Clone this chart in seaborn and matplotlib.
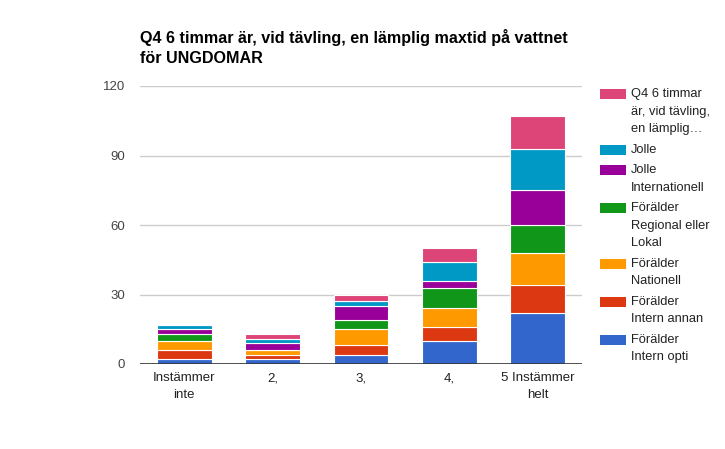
import matplotlib
matplotlib.use("Agg")
import matplotlib.pyplot as plt
import seaborn as sns
import pandas as pd
import numpy as np
from matplotlib.patches import Rectangle

# ---- data ----
categories = ["Instämmer\ninte", "2,", "3,", "4,", "5 Instämmer\nhelt"]
forälder_intern_opti = [2, 2, 4, 10, 22]
forälder_intern_annan = [4, 2, 4, 6, 12]
forälder_nationell = [4, 2, 7, 8, 14]
forälder_regional = [3, 0, 4, 9, 12]
jolle_internationell = [2, 3, 6, 3, 15]
jolle = [2, 2, 2, 8, 18]
q4_total = [0, 2, 3, 6, 14]

series_names = [
    "Förälder\nIntern opti",
    "Förälder\nIntern annan",
    "Förälder\nNationell",
    "Förälder\nRegional eller\nLokal",
    "Jolle\nInternationell",
    "Jolle",
    "Q4 6 timmar\när, vid tävling,\nen lämplig…",
]
series_values = [forälder_intern_opti, forälder_intern_annan, forälder_nationell,
                 forälder_regional, jolle_internationell, jolle, q4_total]
colors = ["#3366cc", "#dc3912", "#ff9900", "#109618", "#990099", "#0099c6", "#dd4477"]
yticks = [0, 30, 60, 90, 120]
title = "Q4 6 timmar är, vid tävling, en lämplig maxtid på vattnet\nför UNGDOMAR"

sns.set_theme(style="white")
plt.rcParams["font.family"] = ["Liberation Sans", "DejaVu Sans"]

W, H = 725, 449
fig = plt.figure(figsize=(W / 100, H / 100), dpi=100)
ax_l, ax_r, ax_t, ax_b = 140, 582, 86, 364
ax = fig.add_axes([ax_l / W, 1 - ax_b / H, (ax_r - ax_l) / W, (ax_b - ax_t) / H])

bottom = np.zeros(len(categories))
for name, vals, col in zip(series_names, series_values, colors):
    df = pd.DataFrame({"cat": categories, "val": vals})
    sns.barplot(data=df, x="cat", y="val", order=categories, color=col,
                width=0.62, bottom=bottom, edgecolor="white", linewidth=0.8,
                saturation=1, ax=ax, errorbar=None)
    bottom = bottom + np.array(vals)

ax.set_ylim(0, 120)
ax.set_yticks(yticks)
ax.set_xlim(-0.5, len(categories) - 0.5)
ax.yaxis.grid(True, color="#cccccc", linewidth=1)
ax.set_axisbelow(True)
ax.axhline(0, color="#333333", linewidth=1.2, zorder=5)
for s in ax.spines.values():
    s.set_visible(False)
ax.set_xlabel("")
ax.set_ylabel("")
ax.tick_params(axis="y", length=0, pad=11, labelsize=9.5, labelcolor="#444444")
ax.tick_params(axis="x", length=0, pad=6, labelsize=9.5, labelcolor="#222222")
for lbl in ax.get_xticklabels():
    lbl.set_linespacing(1.5)

fig.text(140 / W, 1 - 29 / H, title, ha="left", va="top", fontsize=11.6,
         fontweight="bold", color="#000000", linespacing=1.4)

# legend (drawn manually, top entry first)
line_h = 17.3
gap = 3.4
y = 94.3
for name, col in zip(reversed(series_names), reversed(colors)):
    fig.patches.append(Rectangle((600 / W, 1 - (y + 5) / H), 26 / W, 10 / H,
                                 transform=fig.transFigure, facecolor=col,
                                 edgecolor="none"))
    for i, line in enumerate(name.split("\n")):
        fig.text(631 / W, 1 - (y + i * line_h) / H, line, ha="left", va="center",
                 fontsize=9.3, color="#222222")
    y += len(name.split("\n")) * line_h + gap

fig.savefig("out.png", dpi=100)
